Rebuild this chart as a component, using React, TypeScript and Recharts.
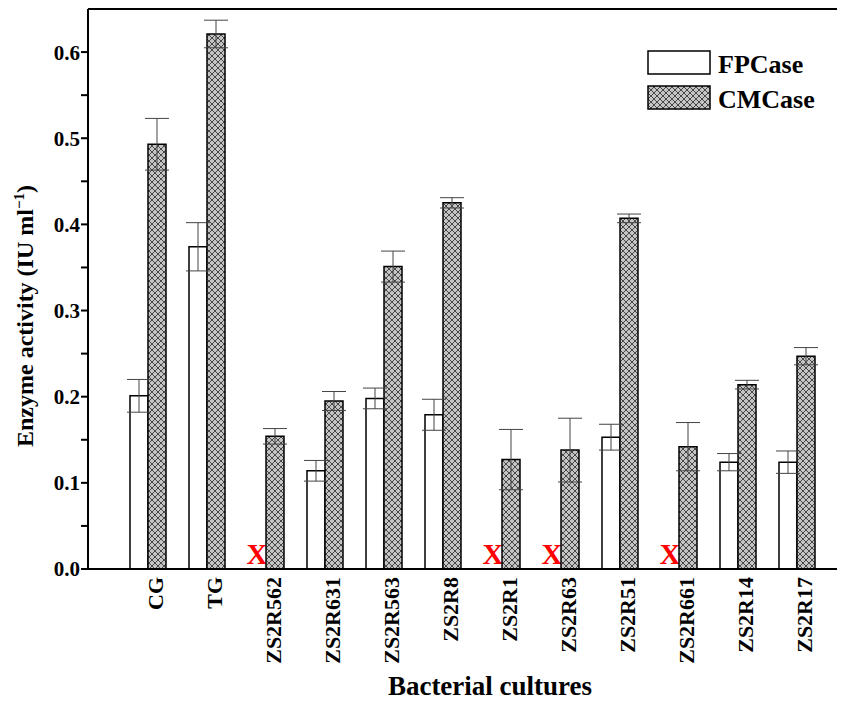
import React from "react";
import { BarChart, Bar, XAxis, YAxis, ErrorBar, ReferenceLine, Rectangle } from "recharts";

const cultures = ["CG", "TG", "ZS2R562", "ZS2R631", "ZS2R563", "ZS2R8", "ZS2R1", "ZS2R63", "ZS2R51", "ZS2R661", "ZS2R14", "ZS2R17"];
// null = not detected (marked with a red X)
const fpcase = [0.201, 0.374, null, 0.114, 0.198, 0.179, null, null, 0.153, null, 0.124, 0.124];
const fpcaseErr = [0.019, 0.028, null, 0.012, 0.012, 0.018, null, null, 0.015, null, 0.01, 0.013];
const cmcase = [0.493, 0.621, 0.154, 0.195, 0.351, 0.425, 0.127, 0.138, 0.407, 0.142, 0.214, 0.247];
const cmcaseErr = [0.03, 0.016, 0.009, 0.011, 0.018, 0.006, 0.035, 0.037, 0.005, 0.028, 0.005, 0.01];
const yTicks = [0, 0.05, 0.1, 0.15, 0.2, 0.25, 0.3, 0.35, 0.4, 0.45, 0.5, 0.55, 0.6];

const data = cultures.map((name, i) => ({
  name,
  fp: fpcase[i] ?? 0,
  fpMissing: fpcase[i] == null,
  fpErr: fpcaseErr[i],
  cm: cmcase[i],
  cmErr: cmcaseErr[i],
}));

const font = "'Liberation Serif', 'Times New Roman', serif";

const FpShape = (props: any) => {
  if (props.payload && props.payload.fpMissing) {
    return (
      <text
        x={props.x + props.width / 2}
        y={props.y - 5}
        textAnchor="middle"
        fill="#ff0000"
        fontFamily={font}
        fontWeight="bold"
        fontSize={29}
      >
        X
      </text>
    );
  }
  return <Rectangle {...props} />;
};

// x-axis title plus the legend box (drawn here so no space is reserved for it)
const XTitleAndLegend = () => (
  <g fontFamily={font} fontWeight="bold" fill="#000">
    <text x={482} y={687} textAnchor="middle" fontSize={27}>
      Bacterial cultures
    </text>
    <g transform="translate(640, 43)">
      <rect x={0} y={0} width={62} height={23} fill="#fff" stroke="#000" strokeWidth={1.5} />
      <rect x={0} y={35} width={62} height={23} fill="url(#hatch)" stroke="#000" strokeWidth={1.5} />
      <text x={70} y={22} fontSize={26}>FPCase</text>
      <text x={70} y={57} fontSize={26}>CMCase</text>
    </g>
  </g>
);

export default function App() {
  return (
    <div style={{ width: 837, height: 694, overflow: "hidden", fontFamily: font }}>
      <BarChart
        width={870}
        height={694}
        data={data}
        margin={{ top: 1, right: 22, bottom: 23, left: 0 }}
        barSize={18}
        barGap={0}
      >
        <defs>
          <pattern id="hatch" width={6} height={6} patternUnits="userSpaceOnUse">
            <rect width={6} height={6} fill="#c4c4c4" />
            <path d="M0,0 L6,6 M6,0 L0,6" stroke="#3a3a3a" strokeWidth={0.9} />
          </pattern>
        </defs>
        <XAxis
          dataKey="name"
          interval={0}
          height={110}
          padding={{ left: 30, right: 30 }}
          axisLine={{ stroke: "#000", strokeWidth: 2 }}
          tickLine={false}
          angle={-90}
          textAnchor="end"
          tick={{ fill: "#000", fontSize: 22, fontWeight: "bold", fontFamily: font }}
          label={{ content: () => <XTitleAndLegend /> }}
        />
        <YAxis
          width={80}
          domain={[0, 0.65]}
          ticks={yTicks}
          interval={0}
          allowDataOverflow
          tickSize={7}
          tickMargin={1}
          axisLine={{ stroke: "#000", strokeWidth: 2 }}
          tickLine={{ stroke: "#000", strokeWidth: 2 }}
          tickFormatter={(v: number) => (Math.round(v * 100) % 10 === 0 ? v.toFixed(1) : "")}
          tick={{ fill: "#000", fontSize: 21, fontWeight: "bold", fontFamily: font }}
          label={{
            content: () => (
              <text
                x={25}
                y={308}
                transform="rotate(-90, 25, 308)"
                textAnchor="middle"
                fontFamily={font}
                fontWeight="bold"
                fontSize={24}
                fill="#000"
              >
                Enzyme activity (IU ml
                <tspan dy={-9} fontSize={15}>−1</tspan>
                <tspan dy={9}>)</tspan>
              </text>
            ),
          }}
        />
        <ReferenceLine y={0.65} stroke="#000" strokeWidth={2} />
        <Bar dataKey="fp" name="FPCase" fill="#fff" stroke="#000" strokeWidth={1.5} shape={FpShape} isAnimationActive={false}>
          <ErrorBar dataKey="fpErr" width={12} stroke="#444" strokeWidth={1} />
        </Bar>
        <Bar dataKey="cm" name="CMCase" fill="url(#hatch)" stroke="#000" strokeWidth={1.5} isAnimationActive={false}>
          <ErrorBar dataKey="cmErr" width={12} stroke="#444" strokeWidth={1} />
        </Bar>
      </BarChart>
    </div>
  );
}
